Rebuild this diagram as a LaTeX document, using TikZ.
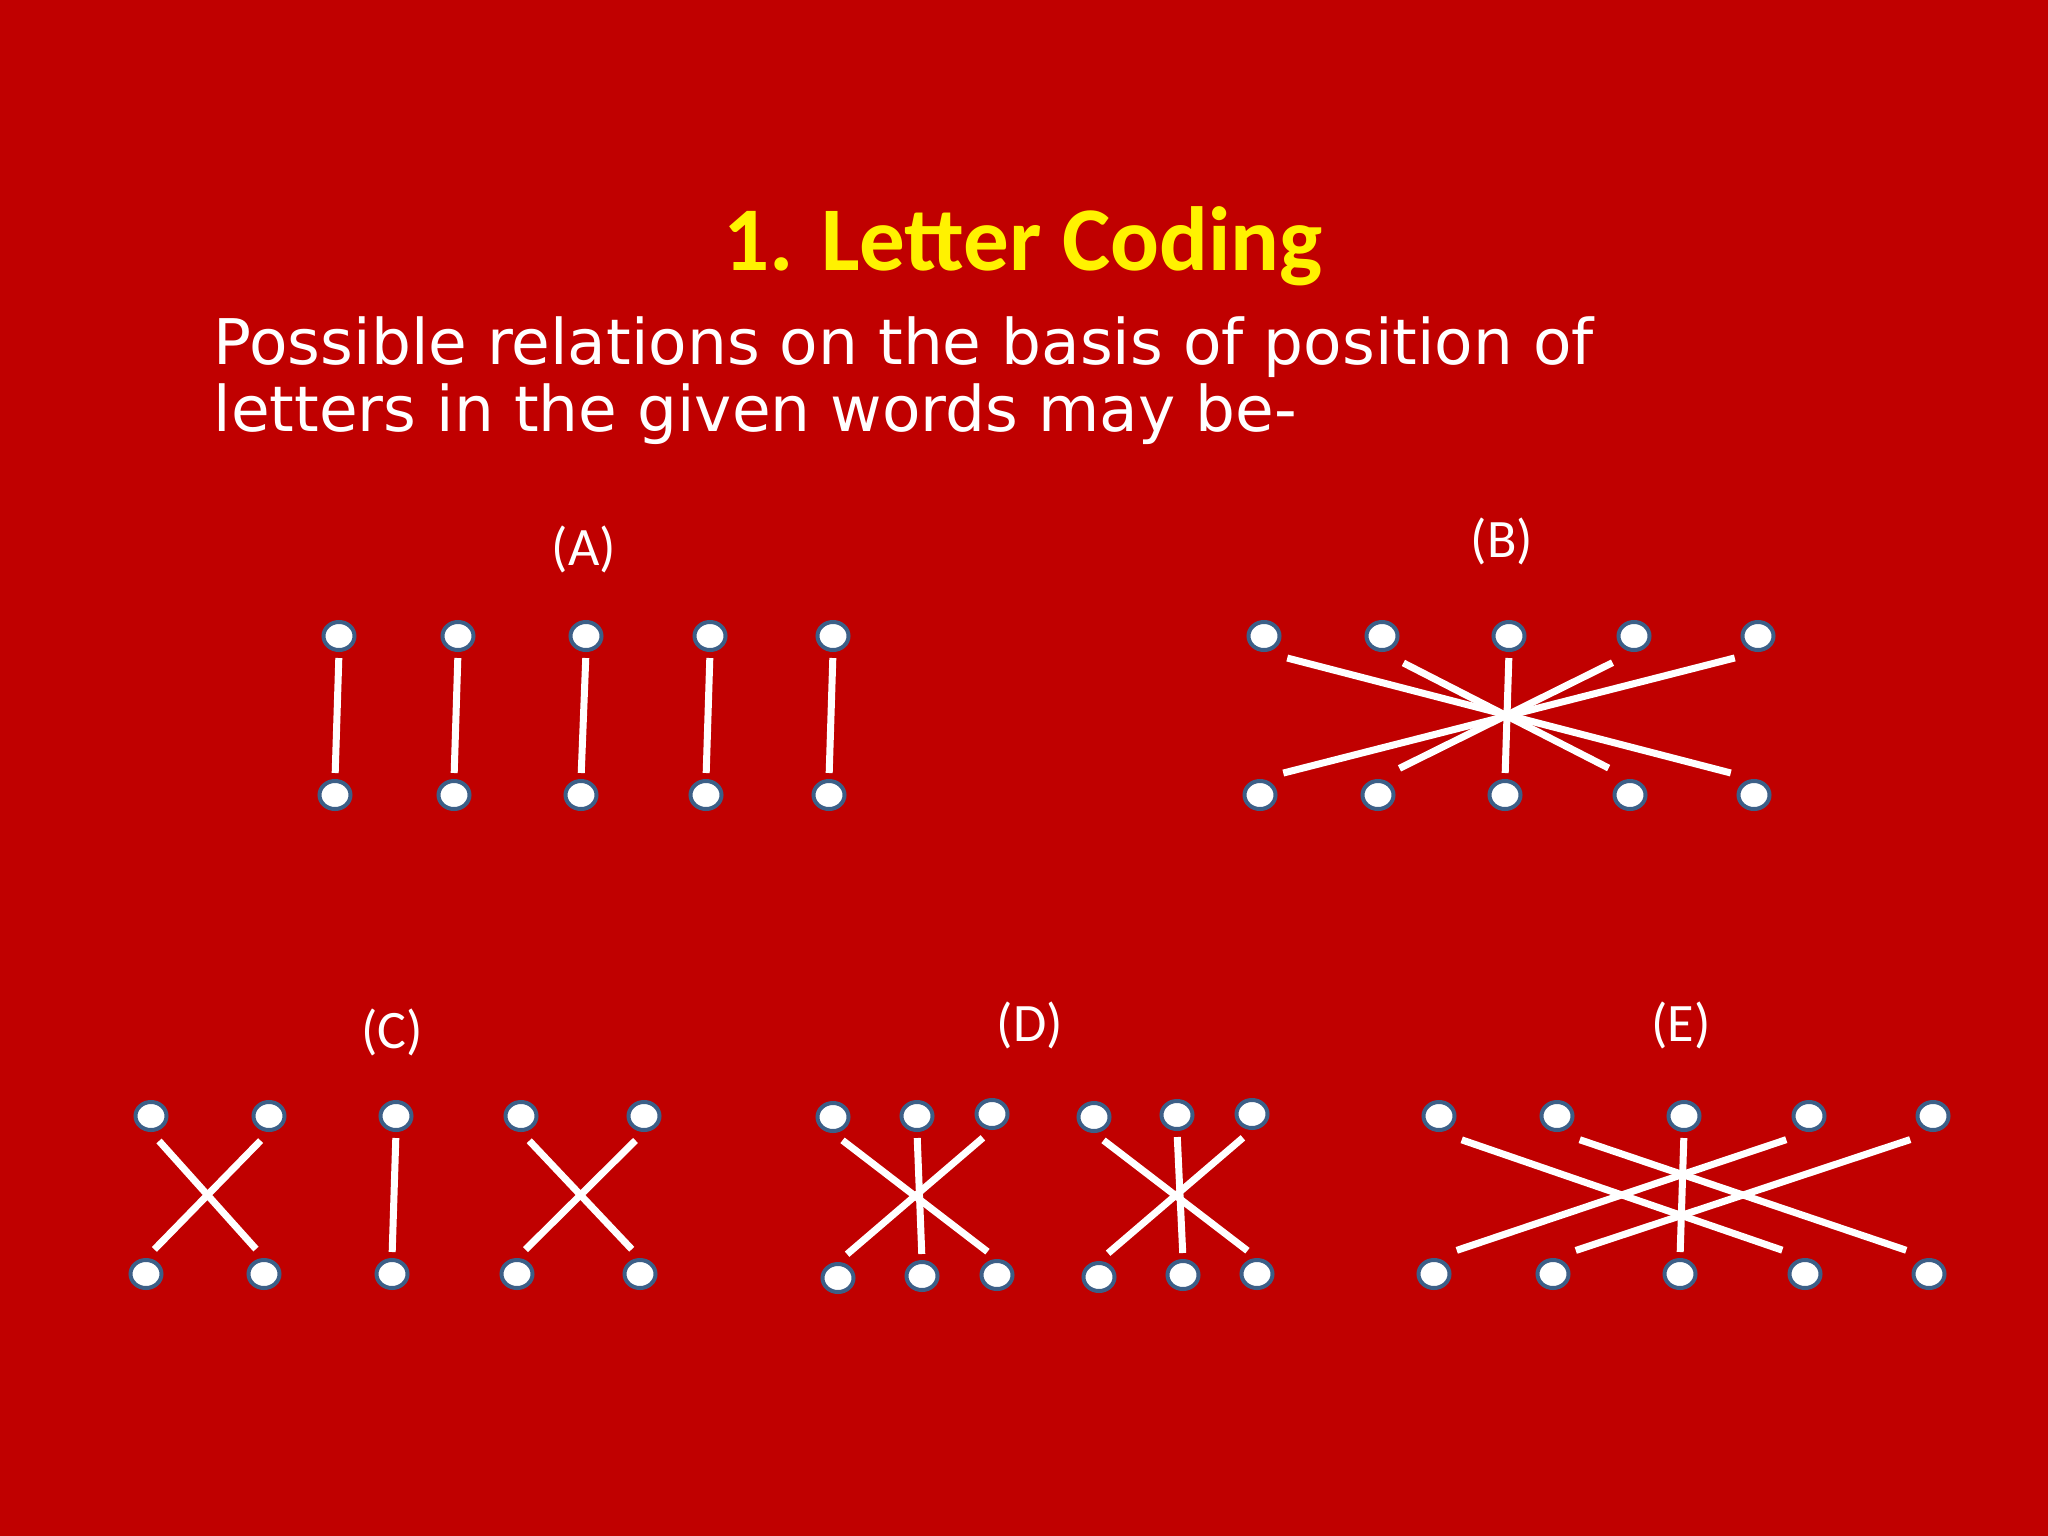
\documentclass[tikz,border=0pt]{standalone}
\usepackage{fontspec}
\setmainfont{DejaVu Sans}
\newfontfamily\calibri{Carlito}
\usetikzlibrary{shapes.geometric}
\definecolor{slidered}{RGB}{192,0,0}
\definecolor{dotrim}{RGB}{60,95,135}
\tikzset{
  letterdot/.style={ellipse, draw=dotrim, line width=0.04cm, fill=white,
    minimum width=0.31cm, minimum height=0.28cm, inner sep=0pt},
  codeline/.style={draw=white, line width=0.07cm, shorten <=0.06cm, shorten >=0.06cm},
  crossline/.style={codeline, shorten <=0.12cm, shorten >=0.12cm},
  farline/.style={codeline, shorten <=0.24cm, shorten >=0.24cm},
  headline/.style={anchor=base, inner sep=0pt, font=\calibri\bfseries\fontsize{25.9}{30}\selectfont},
  introtext/.style={anchor=base west, inner sep=0pt, text=white, font=\fontsize{17.9}{21}\selectfont},
  caselabel/.style={text=white, inner sep=0pt, font=\calibri\fontsize{15.4}{18}\selectfont}
}
\begin{document}
\begin{tikzpicture}[x=0.01cm, y=-0.01cm]
    \fill[slidered] (0,0) rectangle (2048,1536);
    \useasboundingbox (0,0) rectangle (2048,1536);

    \node[headline, text=yellow] (title) at (1023,270) {1. Letter Coding};

    \node[introtext] (line1) at (213,364) {Possible relations on the basis of position of};
    \node[introtext] (line2) at (213,431) {letters in the given words may be-};

    \node[caselabel] (labA) at (584,549) {(A)};
    \node[caselabel] (labB) at (1502,541) {(B)};
    \node[caselabel] (labC) at (392,1032) {(C)};
    \node[caselabel] (labD) at (1030,1025) {(D)};
    \node[caselabel] (labE) at (1681,1025) {(E)};

    % (A)
    \foreach \i/\tx/\bx in {1/339/335, 2/458/454, 3/586/581, 4/710/706, 5/833/829} {
        \node[letterdot] (at\i) at (\tx,636) {};
        \node[letterdot] (ab\i) at (\bx,795) {};
        \draw[codeline] (at\i.south) -- (ab\i.north);
    }

    % (B)
    \foreach \i/\tx/\bx in {1/1264/1260, 2/1382/1378, 3/1509/1505, 4/1634/1630, 5/1758/1754} {
        \node[letterdot] (bt\i) at (\tx,636) {};
        \node[letterdot] (bb\i) at (\bx,795) {};
    }
    \foreach \s/\e in {1/5, 2/4, 4/2, 5/1}
        \draw[farline] (bt\s.south) -- (bb\e.north);
    \draw[codeline] (bt3.south) -- (bb3.north);

    % (C)
    \foreach \i/\tx/\bx in {1/151/146, 2/269/264, 3/396/392, 4/521/517, 5/644/640} {
        \node[letterdot] (ct\i) at (\tx,1116) {};
        \node[letterdot] (cb\i) at (\bx,1274) {};
    }
    \foreach \s/\e in {1/2, 2/1, 4/5, 5/4}
        \draw[crossline] (ct\s.south) -- (cb\e.north);
    \draw[codeline] (ct3.south) -- (cb3.north);

    % (D)
    \foreach \i/\tx/\ty/\bx/\by in {1/833/1117/838/1278, 2/917/1116/922/1276, 3/992/1114/997/1275,
                                    4/1094/1117/1099/1277, 5/1177/1115/1183/1275, 6/1252/1114/1257/1274} {
        \node[letterdot] (dt\i) at (\tx,\ty) {};
        \node[letterdot] (db\i) at (\bx,\by) {};
    }
    \foreach \s/\e in {1/3, 3/1, 4/6, 6/4}
        \draw[crossline] (dt\s.south) -- (db\e.north);
    \foreach \i in {2,5}
        \draw[codeline] (dt\i.south) -- (db\i.north);

    % (E)
    \foreach \i/\tx/\bx in {1/1439/1434, 2/1557/1553, 3/1684/1680, 4/1809/1805, 5/1933/1929} {
        \node[letterdot] (et\i) at (\tx,1116) {};
        \node[letterdot] (eb\i) at (\bx,1274) {};
    }
    \foreach \s/\e in {1/4, 2/5, 4/1, 5/2}
        \draw[farline] (et\s.south) -- (eb\e.north);
    \draw[codeline] (et3.south) -- (eb3.north);

\end{tikzpicture}
\end{document}
